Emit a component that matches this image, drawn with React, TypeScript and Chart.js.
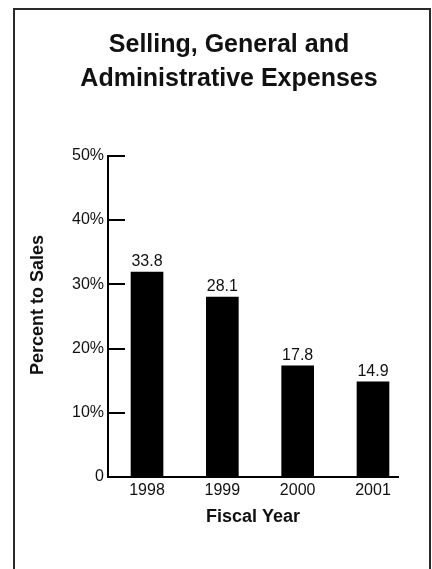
import React, { useEffect, useRef } from 'react';
import { Chart, registerables } from 'chart.js';

Chart.register(...registerables);

// ---- data ----
const titleLines = ['Selling, General and', 'Administrative Expenses'];
const years = [1998, 1999, 2000, 2001];
const barValues = [31.9, 28.0, 17.3, 14.8];
const valueLabels = ['33.8', '28.1', '17.8', '14.9'];
const yTickValues = [0, 10, 20, 30, 40, 50];
const yTickLabels = ['0', '10%', '20%', '30%', '40%', '50%'];
const yAxisTitle = 'Percent to Sales';
const xAxisTitle = 'Fiscal Year';

const SANS = '"Liberation Sans", Arial, Helvetica, sans-serif';

const framePlugin = {
  id: 'frame',
  beforeDraw(chart: any) {
    const ctx = chart.ctx;
    ctx.save();
    ctx.fillStyle = '#ffffff';
    ctx.fillRect(0, 0, chart.width, chart.height);
    ctx.strokeStyle = '#2a2a2a';
    ctx.lineWidth = 2;
    ctx.strokeRect(14, 9, 416, 600);
    ctx.restore();
  },
};

const decorPlugin = {
  id: 'decor',
  afterDraw(chart: any) {
    const ctx = chart.ctx;
    const y = chart.scales.y;
    const area = chart.chartArea;
    ctx.save();
    // inward tick marks
    ctx.strokeStyle = '#000';
    ctx.lineWidth = 2;
    yTickValues.forEach((v) => {
      if (v === 0) return;
      const py = Math.round(y.getPixelForValue(v));
      ctx.beginPath();
      ctx.moveTo(area.left, py);
      ctx.lineTo(area.left + 17, py);
      ctx.stroke();
    });
    // y axis title
    ctx.fillStyle = '#111';
    ctx.font = `bold 18px ${SANS}`;
    ctx.textAlign = 'center';
    ctx.textBaseline = 'middle';
    ctx.translate(38, 305);
    ctx.rotate(-Math.PI / 2);
    ctx.fillText(yAxisTitle, 0, 0);
    ctx.restore();
  },
  afterDatasetsDraw(chart: any) {
    const ctx = chart.ctx;
    const meta = chart.getDatasetMeta(0);
    ctx.save();
    ctx.fillStyle = '#111';
    ctx.font = `16px ${SANS}`;
    ctx.textAlign = 'center';
    ctx.textBaseline = 'alphabetic';
    meta.data.forEach((bar: any, i: number) => {
      ctx.fillText(valueLabels[i], bar.x, bar.y - 6);
    });
    ctx.restore();
  },
};

export default function App() {
  const ref = useRef<HTMLCanvasElement | null>(null);
  useEffect(() => {
    if (!ref.current) return;
    const chart = new Chart(ref.current, {
      type: 'bar',
      data: {
        datasets: [
          {
            data: years.map((yr, i) => ({ x: yr, y: barValues[i] })),
            backgroundColor: '#000',
            borderWidth: 0,
            barThickness: 32,
          },
        ],
      },
      options: {
        animation: false,
        responsive: false,
        maintainAspectRatio: false,
        devicePixelRatio: 1,
        layout: { padding: { left: 60, right: 34, top: 10, bottom: 0 } },
        plugins: {
          legend: { display: false },
          tooltip: { enabled: false },
          title: {
            display: true,
            text: titleLines,
            color: '#111',
            font: { family: SANS, size: 25, weight: 'bold', lineHeight: 34.5 / 25 },
            padding: { top: 17.75, bottom: 59 },
          },
        },
        scales: {
          x: {
            type: 'linear',
            offset: false,
            min: 1997.482,
            max: 2001.332,
            grid: { display: false, drawTicks: false },
            border: { display: true, color: '#000', width: 2 },
            afterBuildTicks: (scale: any) => {
              scale.ticks = years.map((v) => ({ value: v }));
            },
            afterFit: (scale: any) => {
              scale.height = 92;
            },
            ticks: {
              autoSkip: false,
              maxRotation: 0,
              padding: 4,
              color: '#111',
              font: { family: SANS, size: 16 },
              callback: (v: any) => String(v),
            },
            title: {
              display: true,
              text: xAxisTitle,
              color: '#111',
              font: { family: SANS, size: 18, weight: 'bold' },
              padding: { top: 0, bottom: 41 },
            },
          },
          y: {
            min: 0,
            max: 50,
            grid: { display: false, drawTicks: false },
            border: { display: true, color: '#000', width: 2 },
            afterBuildTicks: (scale: any) => {
              scale.ticks = yTickValues.map((v) => ({ value: v }));
            },
            afterFit: (scale: any) => {
              scale.width = 48;
            },
            ticks: {
              padding: 4,
              color: '#111',
              font: { family: SANS, size: 16 },
              callback: (v: any) => {
                const idx = yTickValues.indexOf(Number(v));
                return idx >= 0 ? yTickLabels[idx] : '';
              },
            },
          },
        },
      },
      plugins: [framePlugin, decorPlugin],
    } as any);
    return () => chart.destroy();
  }, []);

  return (
    <div style={{ position: 'absolute', left: 0, top: 0, width: 432, height: 569, overflow: 'hidden' }}>
      <canvas ref={ref} width={432} height={569} style={{ display: 'block', width: 432, height: 569 }} />
    </div>
  );
}
